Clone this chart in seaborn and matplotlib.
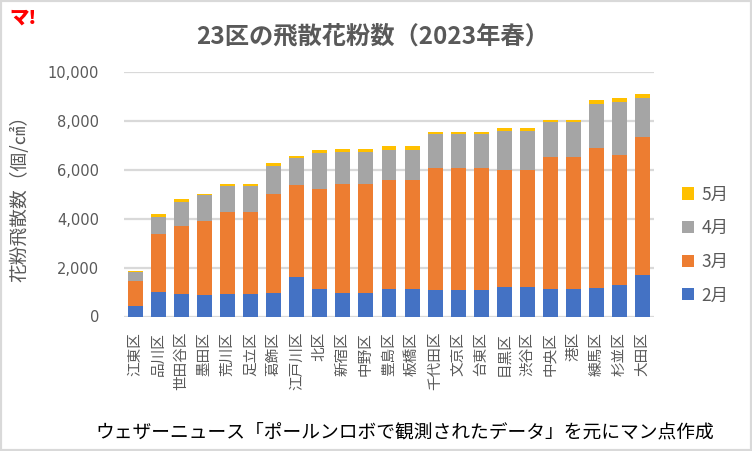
import matplotlib
matplotlib.use('Agg')
import matplotlib.pyplot as plt
import pandas as pd
import seaborn as sns
from matplotlib.patches import Patch, Rectangle

# 区ごとの月別飛散花粉数（個/㎠）
wards = ['江東区', '品川区', '世田谷区', '墨田区', '荒川区', '足立区', '葛飾区',
         '江戸川区', '北区', '新宿区', '中野区', '豊島区', '板橋区', '千代田区',
         '文京区', '台東区', '目黒区', '渋谷区', '中央区', '港区', '練馬区',
         '杉並区', '大田区']
feb = [440, 1000, 910, 870, 910, 910, 950, 1600, 1120, 950, 950, 1120,
       1120, 1070, 1070, 1100, 1210, 1210, 1130, 1130, 1170, 1290, 1700]
mar = [1000, 2380, 2780, 3020, 3350, 3350, 4080, 3760, 4080, 4460, 4460,
       4460, 4460, 4990, 4990, 4970, 4790, 4790, 5390, 5390, 5730, 5310, 5630]
apr = [380, 680, 990, 1060, 1060, 1060, 1140, 1110, 1470, 1330, 1330,
       1220, 1220, 1390, 1390, 1400, 1580, 1580, 1440, 1440, 1800, 2180, 1610]
may = [30, 120, 110, 80, 80, 80, 120, 90, 120, 120, 120, 160, 160, 80,
       80, 80, 120, 120, 70, 70, 160, 160, 160]

months = ['2月', '3月', '4月', '5月']
colors = ['#4472C4', '#ED7D31', '#A5A5A5', '#FFC000']

df = pd.DataFrame({'ward': wards, '2月': feb, '3月': mar, '4月': apr, '5月': may})
cum = df[months].cumsum(axis=1)
cum['ward'] = wards

sns.set_style('white')
plt.rcParams['font.family'] = ['Noto Sans CJK JP', 'DejaVu Sans']

fig = plt.figure(figsize=(7.52, 4.51), dpi=100)
ax = fig.add_axes([124 / 752, 1 - 316.5 / 451, 530 / 752, (316.5 - 72) / 451])

# 積み上げ：合計から順に重ねて描く
for m, c in reversed(list(zip(months, colors))):
    sns.barplot(data=cum, x='ward', y=m, color=c, width=0.65, saturation=1,
                order=wards, ax=ax, zorder=3, linewidth=0)

ax.set_ylim(0, 10000)
ax.set_yticks(range(0, 10001, 2000))
ax.set_yticklabels([f'{v:,}' for v in range(0, 10001, 2000)],
                   family='DejaVu Sans')
ax.grid(axis='y', color='#D9D9D9', linewidth=1.6, zorder=0)
ax.set_axisbelow(True)
for s in ax.spines.values():
    s.set_visible(False)
ax.set_xlabel('')
ax.set_ylabel('')
ax.tick_params(axis='y', length=0, pad=18, labelsize=10.5, labelcolor='#595959')
ax.tick_params(axis='x', length=0, pad=11, labelsize=10.5, labelcolor='#595959')
plt.setp(ax.get_xticklabels(), rotation=90)

handles = [Patch(facecolor=c, edgecolor='none') for c in colors][::-1]
fig.legend(handles, months[::-1], loc='center left',
           bbox_to_anchor=(666 / 752, 1 - 245 / 451), frameon=False,
           fontsize=12.5, labelcolor='#595959', handlelength=0.7,
           handleheight=0.7, handletextpad=0.45, labelspacing=0.9)

fig.text(373 / 752, 1 - 36 / 451, '23区の飛散花粉数（2023年春）', ha='center',
         va='center', fontsize=17.5, fontweight='bold', color='#595959')
fig.text(20 / 752, 1 - 194 / 451, '花粉飛散数（個/㎠）', rotation=90,
         ha='center', va='center', fontsize=13.5, color='#595959')
fig.text(95 / 752, 1 - 432 / 451,
         'ウェザーニュース「ポールンロボで観測されたデータ」を元にマン点作成',
         ha='left', va='center', fontsize=13.5, color='black')
fig.text(9 / 752, 1 - 18 / 451, 'マ!', ha='left', va='center', fontsize=14,
         fontweight='heavy', color='#FF0000')

fig.patches.append(Rectangle((0, 0), 1, 1, transform=fig.transFigure,
                             fill=False, edgecolor='#D9D9D9', linewidth=3))

fig.savefig('out.png', dpi=100)
